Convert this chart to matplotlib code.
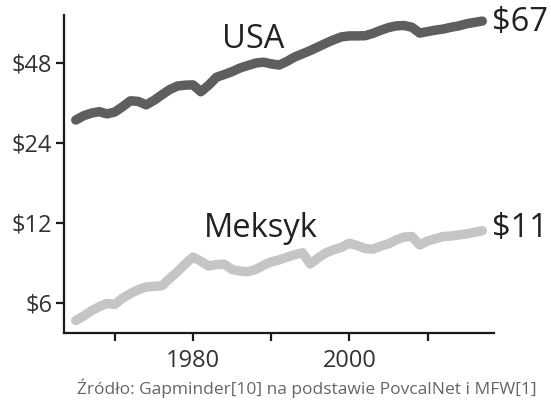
import numpy as np
import matplotlib
matplotlib.use("Agg")
import matplotlib.pyplot as plt
from matplotlib.ticker import FixedLocator, FixedFormatter, NullLocator

plt.rcParams['font.family'] = ['Open Sans', 'DejaVu Sans']

years = list(range(1965, 2018))

# dochód na osobę dziennie (skala log)
usa = [29.2, 30.3, 31.0, 31.4, 30.8, 31.3, 32.8, 34.5, 34.3, 33.3,
       34.6, 36.3, 38.0, 39.2, 39.5, 39.6, 37.3, 39.5, 42.3, 43.3,
       44.4, 45.8, 46.8, 47.8, 48.2, 47.5, 47.0, 48.5, 50.4, 51.8,
       53.3, 55.0, 56.8, 58.5, 60.0, 60.5, 60.5, 60.6, 61.8, 63.5,
       65.0, 66.0, 66.2, 65.2, 62.0, 62.8, 63.6, 64.2, 65.2, 66.0,
       67.2, 68.0, 68.8]
meksyk = [5.15, 5.35, 5.6, 5.8, 5.97, 5.92, 6.25, 6.5, 6.72, 6.88,
          6.92, 6.95, 7.4, 7.85, 8.4, 8.92, 8.6, 8.25, 8.35, 8.38,
          8.0, 7.9, 7.85, 8.0, 8.3, 8.55, 8.7, 8.9, 9.1, 9.25,
          8.4, 8.85, 9.25, 9.5, 9.7, 10.05, 9.85, 9.6, 9.55, 9.8,
          10.0, 10.35, 10.6, 10.65, 9.9, 10.25, 10.45, 10.65, 10.7, 10.8,
          10.9, 11.05, 11.2]

y_ticks = [6, 12, 24, 48]
y_labels = ['$6', '$12', '$24', '$48']
x_ticks = [1970, 1980, 1990, 2000, 2010]
x_labels = ['', '1980', '', '2000', '']
end_labels = ['$67', '$11']

fig = plt.figure(figsize=(5.51, 4.0), dpi=100)
ax = fig.add_axes([0.1162, 0.1675, 0.7804, 0.795])

ax.plot(years, usa, color='#5e5e60', lw=6.8, solid_capstyle='round', solid_joinstyle='round')
ax.plot(years, meksyk, color='#c4c5c7', lw=6.8, solid_capstyle='round', solid_joinstyle='round')

ax.set_yscale('log')
ax.set_ylim(4.62, 72.5)
ax.set_xlim(1963.5, 2018.5)
ax.yaxis.set_major_locator(FixedLocator(y_ticks))
ax.yaxis.set_major_formatter(FixedFormatter(y_labels))
ax.yaxis.set_minor_locator(NullLocator())
ax.xaxis.set_major_locator(FixedLocator(x_ticks))
ax.xaxis.set_major_formatter(FixedFormatter(x_labels))

for s in ['top', 'right']:
    ax.spines[s].set_visible(False)
for s in ['left', 'bottom']:
    ax.spines[s].set_linewidth(1.6)
    ax.spines[s].set_color('#1a1a1a')
ax.tick_params(length=5.5, width=1.6, color='#1a1a1a', labelsize=17, labelcolor='#333333')
ax.tick_params(axis='x', pad=6)
ax.tick_params(axis='y', pad=3)

ax.text(1987.7, 54.4, 'USA', fontsize=23.5, color='#222222', ha='center', va='baseline')
ax.text(1988.7, 10.63, 'Meksyk', fontsize=23.5, color='#222222', ha='center', va='baseline')
ax.text(2018.3, 63.3, end_labels[0], fontsize=23.5, color='#222222', ha='left', va='baseline', clip_on=False)
ax.text(2018.2, 10.63, end_labels[1], fontsize=23.5, color='#222222', ha='left', va='baseline', clip_on=False)

fig.text(0.556, 0.015, 'Źródło: Gapminder[10] na podstawie PovcalNet i MFW[1]',
         fontsize=12.5, color='#666666', ha='center', va='baseline')

fig.savefig('out.png', dpi=100)
